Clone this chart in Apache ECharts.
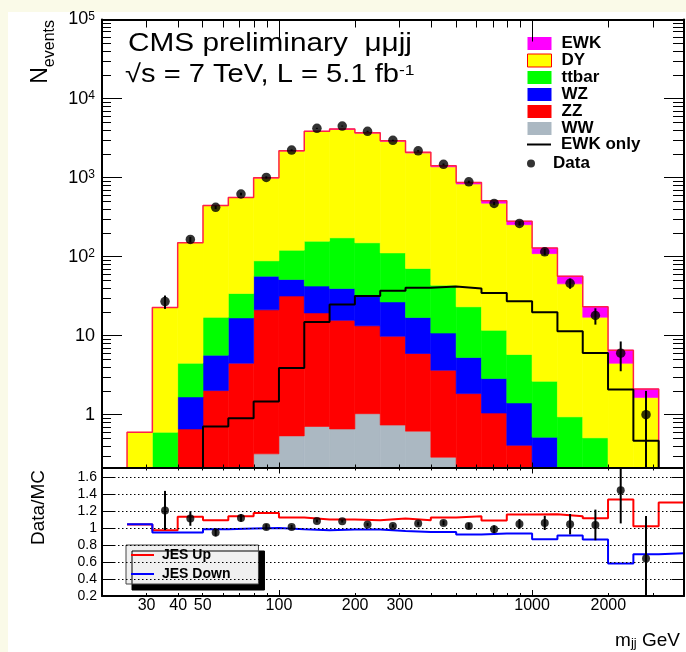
<!DOCTYPE html>
<html><head><meta charset="utf-8">
<script src="https://cdn.jsdelivr.net/npm/echarts@6/dist/echarts.min.js"></script>
<style>
html,body{margin:0;padding:0;background:#fafae8;}
#bg{position:absolute;left:8px;top:12px;width:678px;height:640px;background:#fff;}
#chart{position:absolute;left:0;top:0;width:686px;height:652px;}
</style></head><body>
<div id="bg"></div><div id="chart"></div>
<script>
// ---- data (bins in m_jj, GeV) ----
const binEdges = [25.12, 31.62, 39.81, 50.12, 63.10, 79.43, 100, 125.9, 158.5, 199.5, 251.2, 316.2, 398.1, 501.2, 631.0, 794.3, 1000, 1259, 1585, 1995, 2512, 3162, 3981];
const wwVals   = [0,0,0,0,0,0.32,0.54,0.71,0.66,1.03,0.74,0.62,0.29,0,0,0,0,0,0,0,0,0];
const zzVals   = [0,0,0.66,2.02,4.49,20.9,31.2,18.7,15.0,12.3,9.1,5.33,3.37,1.85,1.05,0.41,0,0,0,0,0,0];
const wzVals   = [0,0,1.02,3.65,12.3,35.4,19.7,23.0,23.9,19.4,16.9,11.05,7.14,3.45,1.82,1.0,0.52,0,0,0,0,0];
const ttVals   = [0,0.6,2.81,11.4,17.4,31.9,69.4,114.6,133.4,116.9,84.8,53.9,32.7,17.9,8.83,4.37,2.13,0.94,0.51,0,0,0];
const dyVals   = [0.6,22.1,145.1,426,526,904,2058,3674,3912,3509,2775,1974,1324,806,463,248,106.5,44.3,16.6,4.47,1.65,0];
const ewkVals  = [0,0,0,0.71,0.9,1.47,3.91,14.9,24.8,31.7,36.9,40.3,41.9,39.6,34.8,27.3,19.8,11.4,6.05,2.08,0.47,0];
const dataVals = [null,27,165,420,620,1005,2230,4200,4490,3850,2960,2180,1470,885,471,263,115,46,18,6,1,null];
const dataErrs = [null,5.2,12.8,20.5,24.9,31.7,47.2,64.8,67,62,54.4,46.7,38.3,29.7,21.7,16.2,10.7,6.8,4.2,2.45,1,null];
const ratioVals = [null,1.205,1.11,0.946,1.118,1.012,1.012,1.082,1.079,1.04,1.024,1.052,1.059,1.024,0.985,1.047,1.059,1.044,1.035,1.443,0.64,null];
const ratioErrs = [null,0.23,0.085,0.046,0.044,0.032,0.022,0.017,0.016,0.017,0.019,0.022,0.027,0.034,0.045,0.058,0.083,0.12,0.18,0.39,0.5,null];
const jesUp   = [1.04,0.973,1.13,1.09,1.138,1.176,1.122,1.099,1.099,1.09,1.11,1.09,1.122,1.138,1.087,1.157,1.161,1.138,1.114,1.334,1.02,1.298];
const jesDown = [1.044,0.946,0.946,0.985,0.993,1.0,0.985,0.973,0.98,0.98,0.965,0.953,0.953,0.922,0.934,0.934,0.867,0.91,0.863,0.581,0.69,0.702];
const xTickLabels = [30, 40, 50, 100, 200, 300, 1000, 2000];

// ---- settings ----
const FONT = "'Liberation Sans', Arial, Helvetica, sans-serif";
const X_MIN = 20, X_MAX = 3981, Y_MIN = 0.215, Y_MAX = 1e5, R_MIN = 0.2, R_MAX = 1.71;
const FLOOR = 0.01;
const nb = binEdges.length - 1;
const centers = [];
for (let i = 0; i < nb; i++) centers.push(Math.sqrt(binEdges[i] * binEdges[i + 1]));

const procs = [
  {name: 'WW', vals: wwVals, color: '#abb8c2'},
  {name: 'ZZ', vals: zzVals, color: '#ff0000'},
  {name: 'WZ', vals: wzVals, color: '#0000ff'},
  {name: 'ttbar', vals: ttVals, color: '#00ff00'},
  {name: 'DY', vals: dyVals, color: '#ffff00'},
  {name: 'EWK', vals: ewkVals, color: '#ff00ff'}
];

function rectRender(params, api) {
  const x0 = api.value(0), x1 = api.value(1);
  const y0 = Math.max(api.value(2), Y_MIN), y1 = Math.min(Math.max(api.value(3), Y_MIN), Y_MAX);
  if (y1 <= y0) return null;
  const p0 = api.coord([x0, y1]), p1 = api.coord([x1, y0]);
  const c = api.visual('color');
  return {type: 'rect', shape: {x: p0[0], y: p0[1], width: p1[0] - p0[0], height: p1[1] - p0[1]},
          style: {fill: c, stroke: c, lineWidth: 0.6}};
}
function errRender(lo, hi, w) {
  return function (params, api) {
    const x = api.value(0), v = api.value(1), e = api.value(2);
    const a = Math.max(v - e, lo), b = Math.min(v + e, hi);
    const p0 = api.coord([x, a]), p1 = api.coord([x, b]);
    return {type: 'line', shape: {x1: p0[0], y1: p0[1], x2: p1[0], y2: p1[1]}, style: {stroke: '#000', lineWidth: w}};
  };
}

const series = [];
const cum = new Array(nb).fill(0);
procs.forEach(p => {
  const rows = [];
  for (let i = 0; i < nb; i++) {
    const lo = cum[i], hi = cum[i] + p.vals[i];
    if (p.vals[i] > 0) rows.push([binEdges[i], binEdges[i + 1], lo, hi]);
    cum[i] = hi;
  }
  series.push({type: 'custom', name: p.name, xAxisIndex: 0, yAxisIndex: 0, data: rows,
    renderItem: rectRender, itemStyle: {color: p.color}, silent: true, z: 2, clip: true});
});

function stepPoints(vals, withEnds) {
  const pts = [];
  if (withEnds) pts.push([binEdges[0], FLOOR]);
  for (let i = 0; i < nb; i++) pts.push([binEdges[i], vals[i] > 0 ? vals[i] : FLOOR]);
  pts.push([binEdges[nb], withEnds ? FLOOR : vals[nb - 1]]);
  return pts;
}
// total outline
series.push({type: 'line', name: 'total', xAxisIndex: 0, yAxisIndex: 0, step: 'end', symbol: 'none',
  data: stepPoints(cum, true), lineStyle: {color: '#ff1f4a', width: 1.5}, z: 3, silent: true, clip: true});
series.push({type: 'line', name: 'EWK only', xAxisIndex: 0, yAxisIndex: 0, step: 'end', symbol: 'none',
  data: stepPoints(ewkVals, true), lineStyle: {color: '#000', width: 2}, itemStyle: {color: '#000'}, z: 4, silent: true, clip: true});
const dataPts = [], dataErrPts = [], ratioPts = [], ratioErrPts = [];
for (let i = 0; i < nb; i++) {
  if (dataVals[i] != null) { dataPts.push([centers[i], dataVals[i]]); dataErrPts.push([centers[i], dataVals[i], dataErrs[i]]); }
  if (ratioVals[i] != null) { ratioPts.push([centers[i], ratioVals[i]]); ratioErrPts.push([centers[i], ratioVals[i], ratioErrs[i]]); }
}
series.push({type: 'custom', name: 'dataErr', xAxisIndex: 0, yAxisIndex: 0, data: dataErrPts, renderItem: errRender(Y_MIN, Y_MAX, 2), z: 5, silent: true});
series.push({type: 'scatter', name: 'Data', xAxisIndex: 0, yAxisIndex: 0, data: dataPts, symbol: 'circle', symbolSize: 9.5, itemStyle: {color: '#000'}, z: 6, silent: true});
// ratio
series.push({type: 'line', name: 'JES Up', xAxisIndex: 2, yAxisIndex: 2, step: 'end', symbol: 'none',
  data: stepPoints(jesUp, false), lineStyle: {color: '#ff0000', width: 2}, itemStyle: {color: '#ff0000'}, z: 3, silent: true});
series.push({type: 'line', name: 'JES Down', xAxisIndex: 2, yAxisIndex: 2, step: 'end', symbol: 'none',
  data: stepPoints(jesDown, false), lineStyle: {color: '#0000ff', width: 2}, itemStyle: {color: '#0000ff'}, z: 3, silent: true});
series.push({type: 'custom', name: 'ratioErr', xAxisIndex: 2, yAxisIndex: 2, data: ratioErrPts, renderItem: errRender(R_MIN, R_MAX, 2), z: 5, silent: true});
series.push({type: 'scatter', name: 'Ratio', xAxisIndex: 2, yAxisIndex: 2, data: ratioPts, symbol: 'circle', symbolSize: 8, itemStyle: {color: '#000'}, z: 6, silent: true});

const lineBlack = {show: true, lineStyle: {color: '#000', width: 2}};
function logX(grid, pos, major, minor, labels) {
  const ax = {type: 'log', logBase: 10, gridIndex: grid, position: pos, min: X_MIN, max: X_MAX, z: 10,
    axisLine: lineBlack, splitLine: {show: false},
    axisTick: {show: true, inside: true, length: major, lineStyle: {color: '#000', width: 1}},
    minorTick: {show: true, splitNumber: 9, length: minor, lineStyle: {color: '#000', width: 1}},
    axisLabel: {show: false}};
  if (labels) ax.axisLabel = {show: true, customValues: xTickLabels, fontFamily: FONT, fontSize: 16, color: '#000', margin: 2,
    formatter: v => String(Math.round(v))};
  return ax;
}
const yMainLabel = {show: true, fontFamily: FONT, fontSize: 18, color: '#000', margin: 7, showMinLabel: false,
  formatter: v => { const e = Math.round(Math.log10(v)); return e >= 2 ? '{b|10}{s|' + e + '}' : String(Math.round(Math.pow(10, e))); },
  rich: {b: {fontFamily: FONT, fontSize: 18, lineHeight: 18, verticalAlign: 'bottom', color: '#000'},
         s: {fontFamily: FONT, fontSize: 12, lineHeight: 12, verticalAlign: 'top', padding: [0, 0, 10, 0], color: '#000'}}};
function logY(pos, major, minor, label) {
  return {type: 'log', logBase: 10, gridIndex: 0, position: pos, min: Y_MIN, max: Y_MAX, z: 10,
    axisLine: lineBlack, splitLine: {show: false},
    axisTick: {show: true, inside: true, length: major, lineStyle: {color: '#000', width: 1}},
    minorTick: {show: true, splitNumber: 9, length: minor, lineStyle: {color: '#000', width: 1}},
    axisLabel: label ? yMainLabel : {show: false}};
}
function ratioY(pos, label) {
  return {type: 'value', gridIndex: 1, position: pos, min: R_MIN, max: R_MAX, interval: 0.2, z: 10,
    axisLine: lineBlack,
    axisTick: {show: true, inside: true, length: 12, lineStyle: {color: '#000', width: 1}},
    splitLine: {show: label, lineStyle: {color: '#000', width: 1, type: [1.5, 2.5]}},
    axisLabel: label ? {show: true, fontFamily: FONT, fontSize: 14, color: '#000', margin: 5, showMaxLabel: false} : {show: false}};
}

const legendText = {fontFamily: FONT, fontSize: 17, fontWeight: 'bold', color: '#000', lineHeight: 17, padding: [0, 0, 0, 5]};
const option = {
  animation: false,
  grid: [
    {left: 102, top: 19.5, width: 582, height: 448, outerBoundsMode: 'none', containLabel: false},
    {left: 102, top: 467.5, width: 582, height: 128.5, outerBoundsMode: 'none', containLabel: false}
  ],
  xAxis: [logX(0, 'bottom', 5, 3, false), logX(0, 'top', 22, 8, false), logX(1, 'bottom', 6, 3, true), logX(1, 'top', 6, 3, false)],
  yAxis: [logY('left', 20, 9, true), logY('right', 20, 11, false), ratioY('left', true), ratioY('right', false)],
  legend: [
    {orient: 'vertical', left: 527, top: 35, padding: 0, itemGap: 0, itemWidth: 24, itemHeight: 13, textStyle: legendText,
     selectedMode: false,
     data: [
       {name: 'EWK', icon: 'rect', itemStyle: {color: '#ff00ff'}},
       {name: 'DY', icon: 'rect', itemStyle: {color: '#ffff00', borderColor: '#ff0000', borderWidth: 1}},
       {name: 'ttbar', icon: 'rect', itemStyle: {color: '#00ff00'}},
       {name: 'WZ', icon: 'rect', itemStyle: {color: '#0000ff'}},
       {name: 'ZZ', icon: 'rect', itemStyle: {color: '#ff0000'}},
       {name: 'WW', icon: 'rect', itemStyle: {color: '#abb8c2'}}
     ]},
    {orient: 'vertical', left: 527, top: 136, padding: 0, itemGap: 0, itemWidth: 24, itemHeight: 2, textStyle: legendText,
     selectedMode: false, data: [{name: 'EWK only', icon: 'rect', itemStyle: {color: '#000'}}]},
    {orient: 'vertical', left: 527, top: 155, padding: 0, itemGap: 0, itemWidth: 24, itemHeight: 8, textStyle: legendText,
     selectedMode: false, data: [{name: 'Data', icon: 'circle', itemStyle: {color: '#000'}}]},
    {orient: 'vertical', left: 126, top: 545, padding: [3, 28, 3, 5], itemGap: 5, itemWidth: 23, itemHeight: 2,
     selectedMode: false, backgroundColor: '#f0f0f0', borderColor: '#444', borderWidth: 1,
     shadowColor: '#000', shadowBlur: 0, shadowOffsetX: 6, shadowOffsetY: 6,
     textStyle: {fontFamily: FONT, fontSize: 14, fontWeight: 'bold', color: '#000', lineHeight: 14, padding: [0, 0, 0, 3]},
     data: [{name: 'JES Up', icon: 'rect', itemStyle: {color: '#ff0000'}}, {name: 'JES Down', icon: 'rect', itemStyle: {color: '#0000ff'}}]}
  ],
  graphic: [
    {type: 'text', x: 128, y: 44.3, scaleX: 1.19, style: {text: 'CMS preliminary  \u03bc\u03bcjj', fontFamily: FONT, fontSize: 25, fill: '#000', align: 'left', verticalAlign: 'middle'}},
    {type: 'text', x: 125, y: 75.4, scaleX: 1.165, style: {text: '{a|\u221as = 7 TeV, L = 5.1 fb}{s|-1}', fill: '#000', align: 'left', verticalAlign: 'middle',
      rich: {a: {fontFamily: FONT, fontSize: 25, lineHeight: 25, verticalAlign: 'bottom', fill: '#000'},
             s: {fontFamily: FONT, fontSize: 15, lineHeight: 15, verticalAlign: 'top', padding: [0, 0, 18, 0], fill: '#000'}}}},
    {type: 'text', x: 40.3, y: 20, rotation: Math.PI / 2, style: {text: '{n|N}{e|events}', fill: '#000', align: 'right', verticalAlign: 'middle',
      rich: {n: {fontFamily: FONT, fontSize: 23, lineHeight: 34, fill: '#000'},
             e: {fontFamily: FONT, fontSize: 16, lineHeight: 16, verticalAlign: 'bottom', fill: '#000'}}}},
    {type: 'text', x: 38.4, y: 507.5, rotation: Math.PI / 2, style: {text: 'Data/MC', fontFamily: FONT, fontSize: 19, fill: '#000', align: 'center', verticalAlign: 'middle'}},
    {type: 'text', x: 680, y: 640.6, style: {text: '{m|m}{j|jj}{g| GeV}', fill: '#000', align: 'right', verticalAlign: 'middle',
      rich: {m: {fontFamily: FONT, fontSize: 19, lineHeight: 19, verticalAlign: 'top', fill: '#000'},
             g: {fontFamily: FONT, fontSize: 19, lineHeight: 19, verticalAlign: 'top', fill: '#000'},
             j: {fontFamily: FONT, fontSize: 13, lineHeight: 13, verticalAlign: 'bottom', padding: [9, 0, 0, 0], fill: '#000'}}}}
  ],
  series: series
};
const chart = echarts.init(document.getElementById('chart'), null, {renderer: 'canvas'});
chart.setOption(option);
</script></body></html>
